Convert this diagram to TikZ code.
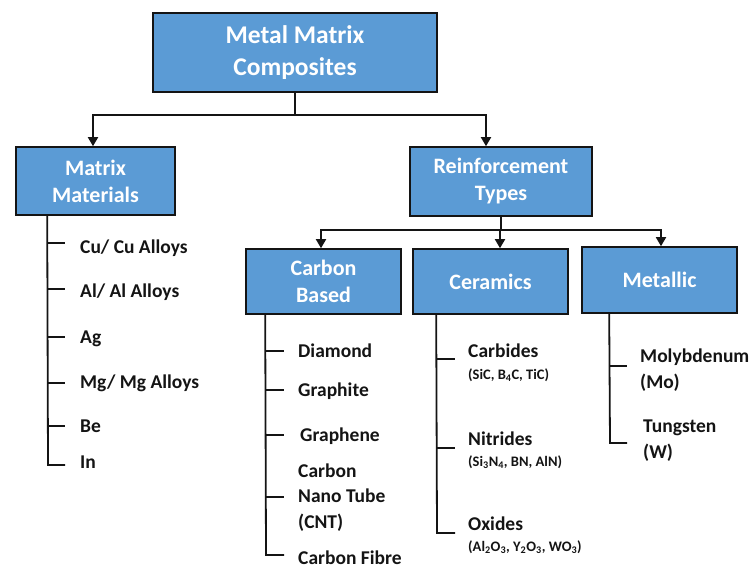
\documentclass[tikz,border=0pt]{standalone}
\usepackage{fontspec}
\setmainfont{Carlito}
\usetikzlibrary{calc,arrows.meta}
\definecolor{boxblue}{RGB}{91,155,213}
\definecolor{inkgrey}{RGB}{20,20,20}

\begin{document}
\begin{tikzpicture}[x=1pt,y=-1pt,
    box/.style={draw=inkgrey,line width=1.6pt,fill=boxblue,text=white,align=center,
      inner sep=0pt,font=\fontsize{22}{27}\selectfont\bfseries},
    tree/.style={draw=inkgrey,line width=1.8pt},
    link/.style={tree,-{Triangle[length=9pt,width=10pt]}},
    item/.style={anchor=base west,inner sep=0pt,text=inkgrey,align=left,
      font=\fontsize{19.5}{25.5}\selectfont\bfseries},
    formula/.style={anchor=base west,inner sep=0pt,text=inkgrey,
      font=\fontsize{14.5}{17}\selectfont\bfseries}]
  \useasboundingbox (0,0) rectangle (752,572);
  % boxes
  \node[box,minimum width=284,minimum height=79,font=\fontsize{25.5}{32}\selectfont\bfseries]
    (mmc) at (295,52.5) {Metal Matrix\\Composites};
  \node[box,minimum width=159,minimum height=68] (matrix) at (95.5,181) {Matrix\\Materials};
  \node[box,minimum width=182,minimum height=69] (reinf) at (501,181.5) {Reinforcement\\Types};
  \node[box,minimum width=155,minimum height=65] (carbon) at (323.5,281.5) {Carbon\\Based};
  \node[box,minimum width=155,minimum height=65] (ceram) at (490.5,281.5) {Ceramics};
  \node[box,minimum width=155,minimum height=66] (metal) at (659.5,280) {Metallic};
  % arrows
  \draw[link] (mmc.south) -- ++(0,22) -| ($(matrix.north)+(-2.5,0)$);
  \draw[link] (mmc.south) -- ++(0,22) -| ($(reinf.north)+(-15,0)$);
  \draw[link] (reinf.south) -- ++(0,13) -| ($(carbon.north)+(-2.5,0)$);
  \draw[link] (reinf.south) -- ++(0,13) -| ($(ceram.north)+(9.5,0)$);
  \draw[link] (reinf.south) -- ++(0,13) -| ($(metal.north)+(1.5,0)$);

  % matrix materials
  \node[item] (cu) at (80,253) {Cu/ Cu Alloys};
  \node[item] (al) at (80,297) {Al/ Al Alloys};
  \node[item] (ag) at (80,343) {Ag};
  \node[item] (mg) at (80,388) {Mg/ Mg Alloys};
  \node[item] (be) at (80,432) {Be};
  \node[item] (in) at (80,468) {In};
  \draw[tree] ($(matrix.south west)+(32,0)$) -- (48,465) -- ++(17,0);
  \foreach \y in {243,289,337,383,426} \draw[tree] (48,\y) -- ++(17,0);

  % carbon based
  \node[item] (diamond) at (298,357) {Diamond};
  \node[item] (graphite) at (298,396) {Graphite};
  \node[item] (graphene) at (300,441) {Graphene};
  \node[item] (cnt) at (298,528) {Carbon\\Nano Tube\\(CNT)};
  \node[item] (fibre) at (298,564) {Carbon Fibre};
  \draw[tree] ($(carbon.south west)+(20,0)$) -- (266,555) -- ++(18,0);
  \foreach \y in {351,390,435,497} \draw[tree] (266,\y) -- ++(18,0);

  % ceramics
  \node[item] (carbides) at (468,357) {Carbides};
  \node[formula] (carbidesf) at (468,379) {(SiC, B\textsubscript{4}C, TiC)};
  \node[item] (nitrides) at (468,445) {Nitrides};
  \node[formula] (nitridesf) at (468,466) {(Si\textsubscript{3}N\textsubscript{4}, BN, AlN)};
  \node[item] (oxides) at (468,530) {Oxides};
  \node[formula] (oxidesf) at (468,551) {(Al\textsubscript{2}O\textsubscript{3}, Y\textsubscript{2}O\textsubscript{3}, WO\textsubscript{3})};
  \draw[tree] ($(ceram.south west)+(24,0)$) -- (437,533) -- ++(18,0);
  \foreach \y in {359,448} \draw[tree] (437,\y) -- ++(18,0);

  % metallic
  \node[item] (moly) at (640,388) {Molybdenum\\(Mo)};
  \node[item] (tung) at (643,458) {Tungsten\\(W)};
  \draw[tree] ($(metal.south west)+(28,0)$) -- (610,443) -- ++(17,0);
  \draw[tree] (610,366) -- ++(17,0);
\end{tikzpicture}
\end{document}
